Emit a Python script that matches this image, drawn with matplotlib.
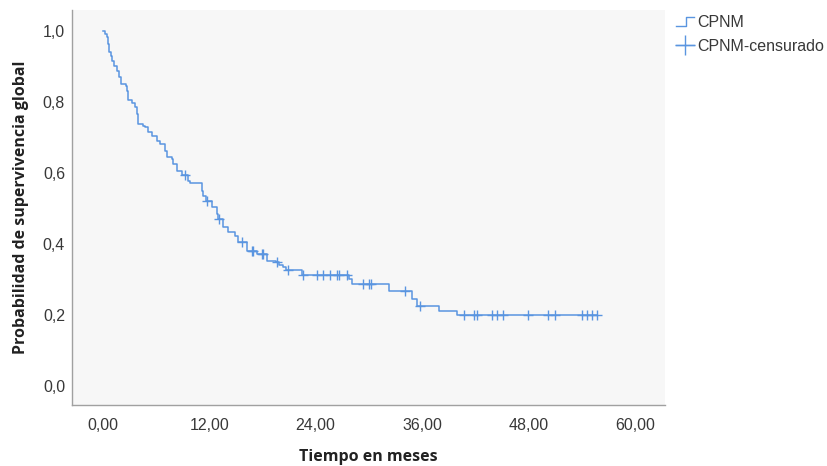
import numpy as np
import matplotlib
matplotlib.use("Agg")
import matplotlib.pyplot as plt
from matplotlib.lines import Line2D
from matplotlib.legend_handler import HandlerLine2D

# Kaplan-Meier estimate: event times (months) and survival after each event
event_times = [0.00, 0.28, 0.54, 0.65, 0.73, 0.96, 1.04, 1.33, 1.60, 1.86, 2.08,
               2.61, 2.79, 2.91, 3.29, 3.66, 3.92, 4.03, 4.59, 4.79, 5.16, 5.54,
               6.10, 6.48, 7.04, 7.23, 7.79, 7.97, 8.36, 8.92, 9.66, 9.85, 11.17,
               11.35, 11.66, 12.30, 12.86, 13.00, 13.60, 14.17, 14.92, 15.26, 16.24,
               17.36, 18.49, 19.54, 19.91, 20.29, 20.66, 22.43, 27.76, 28.10, 32.26,
               34.82, 35.45, 37.89, 39.89]
survival = [1.000, 0.992, 0.982, 0.963, 0.940, 0.930, 0.916, 0.902, 0.888, 0.870, 0.851,
            0.846, 0.832, 0.804, 0.796, 0.785, 0.766, 0.738, 0.733, 0.729, 0.715, 0.705,
            0.691, 0.682, 0.663, 0.644, 0.639, 0.625, 0.606, 0.594, 0.578, 0.571, 0.550,
            0.536, 0.521, 0.503, 0.485, 0.470, 0.447, 0.433, 0.423, 0.405, 0.381,
            0.372, 0.353, 0.348, 0.341, 0.334, 0.325, 0.311, 0.301, 0.287, 0.268,
            0.245, 0.224, 0.211, 0.199]

# Censored observations (months)
censored_times = [9.29, 11.80, 13.15, 15.68, 16.80, 16.98, 17.93, 18.11, 19.68, 20.92,
                  22.61, 24.12, 24.86, 25.62, 26.37, 26.67, 27.53, 29.37, 30.05, 30.24,
                  34.07, 35.75, 40.71, 41.87, 42.21, 43.90, 44.46, 45.14, 47.95, 50.20,
                  51.01, 54.00, 54.56, 55.12, 55.69]

x_ticks = [0, 12, 24, 36, 48, 60]
x_tick_labels = ["0,00", "12,00", "24,00", "36,00", "48,00", "60,00"]
y_ticks = [0.0, 0.2, 0.4, 0.6, 0.8, 1.0]
y_tick_labels = ["0,0", "0,2", "0,4", "0,6", "0,8", "1,0"]

series_name = "CPNM"
censor_name = "CPNM-censurado"

line_color = "#5a95e0"
text_color = "#383838"

t = np.array(event_times)
s = np.array(survival)
ct = np.array(censored_times)
# survival level at each censoring time
cs = s[np.searchsorted(t, ct, side="right") - 1]

step_t = np.append(t, ct.max())
step_s = np.append(s, s[-1])

fig = plt.figure(figsize=(8.27, 4.66), dpi=100)
ax = fig.add_axes([72 / 827, 61 / 466, 593 / 827, 395 / 466])
ax.set_facecolor("#f7f7f7")

ax.step(step_t, step_s, where="post", color=line_color, lw=1.1)
ax.plot(ct, cs, linestyle="none", marker="+", markersize=7, markeredgewidth=1.0,
        color=line_color)

ax.set_xlim(-3.45, 63.35)
ax.set_ylim(-0.054, 1.059)
ax.set_xticks(x_ticks)
ax.set_xticklabels(x_tick_labels)
ax.set_yticks(y_ticks)
ax.set_yticklabels(y_tick_labels)
ax.tick_params(axis="both", length=0, labelsize=11.5, labelcolor=text_color)
ax.tick_params(axis="x", pad=9)
ax.tick_params(axis="y", pad=5)
for lbl in ax.get_xticklabels() + ax.get_yticklabels():
    lbl.set_fontfamily("Liberation Sans")

for side in ("top", "right"):
    ax.spines[side].set_visible(False)
for side in ("left", "bottom"):
    ax.spines[side].set_color("#a0a0a0")
    ax.spines[side].set_linewidth(1.0)

ax.set_xlabel("Tiempo en meses", fontsize=11.5, fontweight="bold", family="Open Sans",
              color="#222222", labelpad=12)
ax.set_ylabel("Probabilidad de supervivencia global", fontsize=11.5, fontweight="bold",
              family="Open Sans", color="#222222", labelpad=10)


class StepHandler(HandlerLine2D):
    def create_artists(self, legend, orig_handle, xdescent, ydescent, width, height,
                       fontsize, trans):
        xs = np.array([0.0, 0.55, 0.55, 1.0]) * width - xdescent
        ys = np.array([0.1, 0.1, 0.85, 0.85]) * height - ydescent
        ln = Line2D(xs, ys, color=orig_handle.get_color(), lw=orig_handle.get_linewidth())
        ln.set_transform(trans)
        return [ln]


h_step = Line2D([], [], color=line_color, lw=1.0)
h_cens = Line2D([], [], color=line_color, lw=1.0, marker="+", markersize=14,
                markeredgewidth=1.0)
leg = fig.legend([h_step, h_cens], [series_name, censor_name], loc="upper left",
                 bbox_to_anchor=(676 / 827, 1 - 15 / 466), frameon=False,
                 borderaxespad=0, borderpad=0,
                 handlelength=1.13, handletextpad=0.2, labelspacing=0.55,
                 prop={"family": "Liberation Sans", "size": 11.5},
                 handler_map={h_step: StepHandler()})
for txt in leg.get_texts():
    txt.set_color(text_color)

fig.savefig("out.png", dpi=100, facecolor="white")
